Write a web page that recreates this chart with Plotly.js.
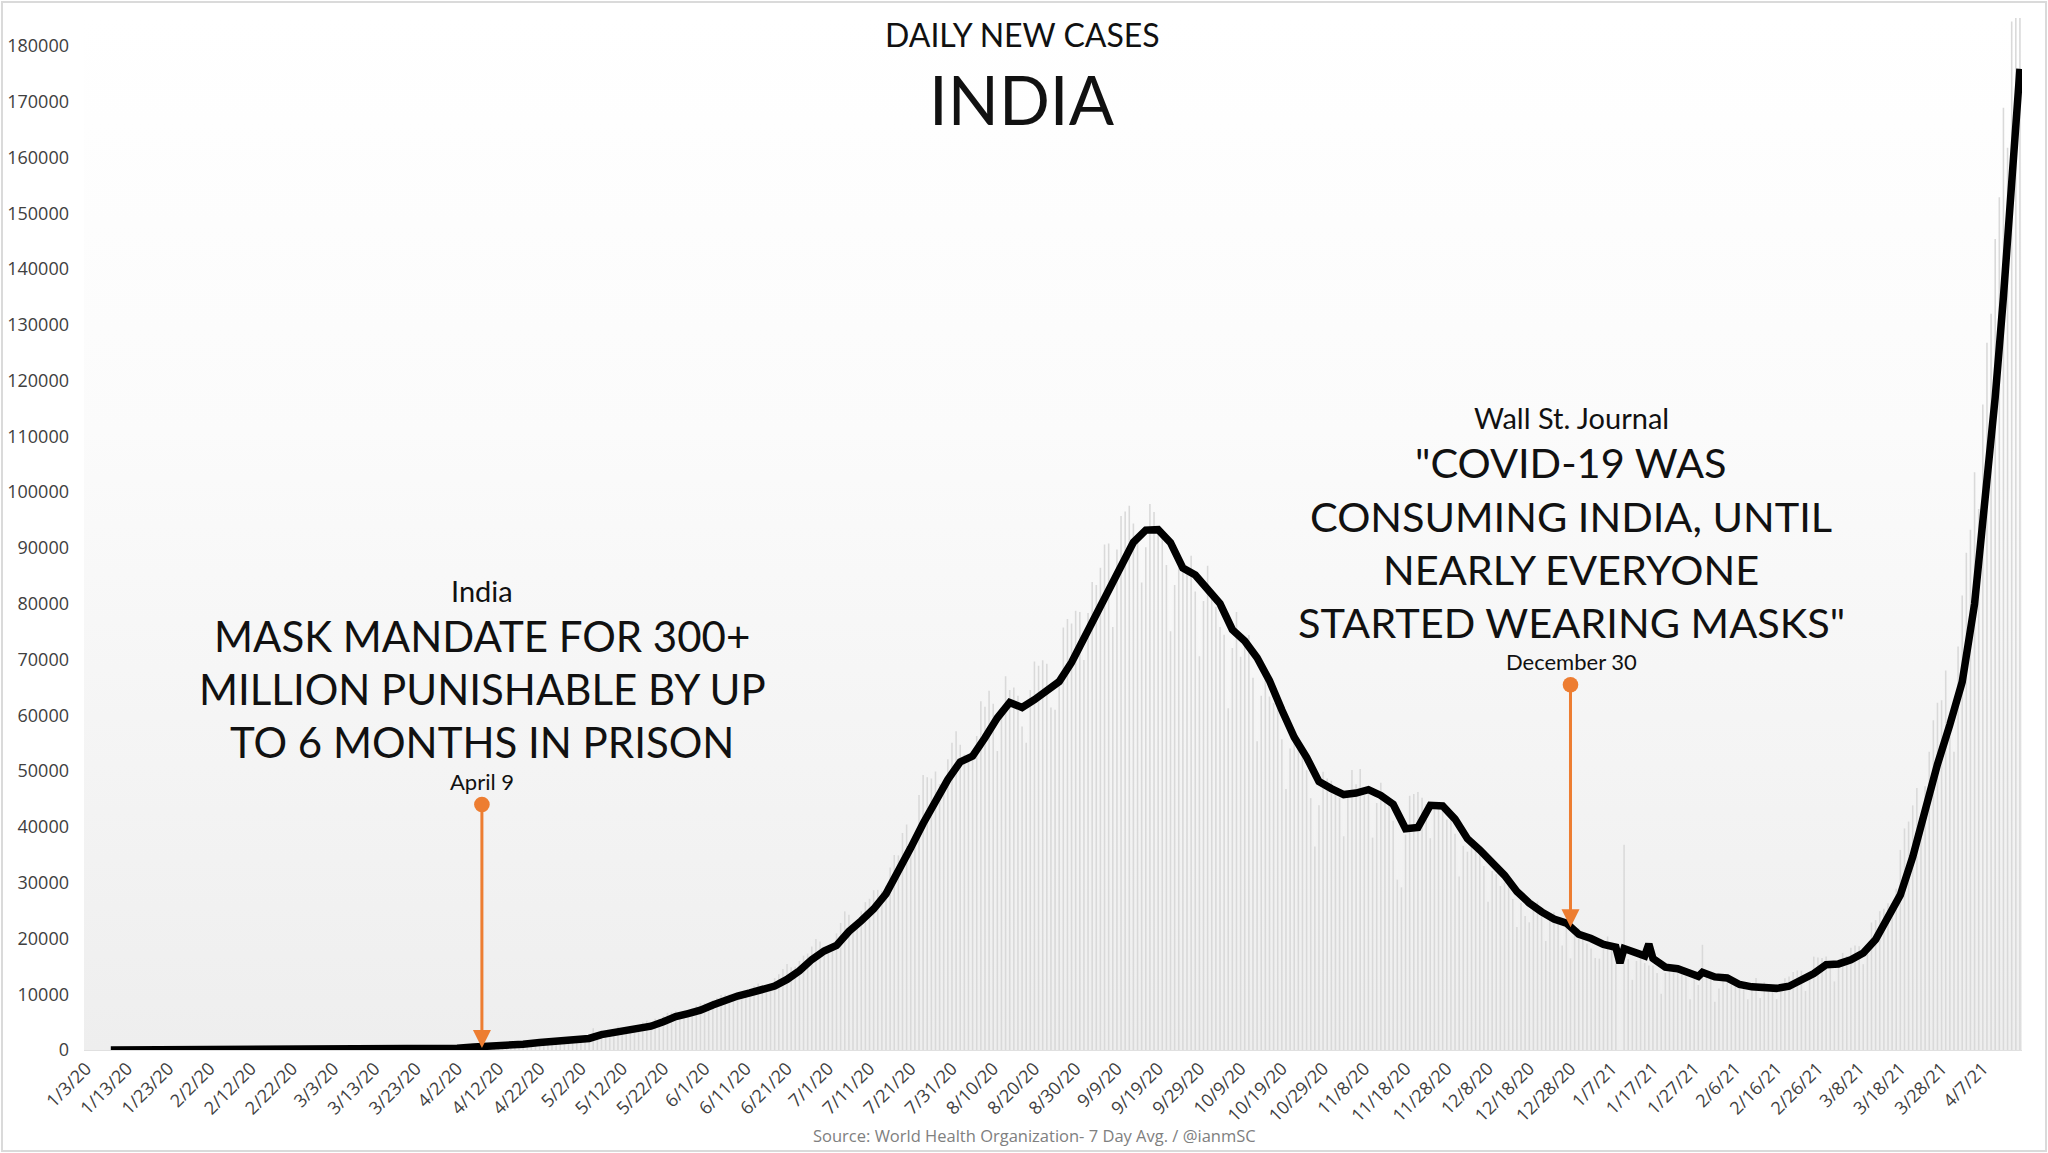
<!DOCTYPE html>
<html>
<head>
<meta charset="utf-8">
<script src="https://cdn.plot.ly/plotly-3.0.1.min.js"></script>
<style>
html,body{margin:0;padding:0;background:#ffffff;}
#chart{width:2048px;height:1153px;outline:2px solid #dadada;outline-offset:-3px;}
</style>
</head>
<body>
<div id="chart"></div>
<script>
// ---------- DATA ----------
// Daily new cases (gray bars), starting 2020-01-03, one value per day
const jan20 = [0,0,0,0,0,0,0,0,0,0,0,0,0,0,0,0,0,0,0,0,0,0,0,0,0,0,0,1,0];
const feb20 = [0,1,1,0,0,0,0,0,0,0,0,0,0,0,0,0,0,0,0,0,0,0,0,0,0,0,0,0,0];
const mar20 = [0,2,1,22,1,2,3,5,4,12, 6,11,9,11,20,4,23,14,27,60, 80,64,84,87,88,75,147,160,106,227, 146];
const apr20 = [601,545,478,601,472,693,354,773,540,896, 796,909,796,1211,1076,826,1007,1334,1553,1336, 1383,1409,1684,1429,1990,1396,1543,1594,1813,1718];
const may20 = [1993,2293,2644,2553,3900,2958,3561,3390,3320,3277, 4213,3604,3525,3722,3967,3970,4987,5242,4970,5611, 5609,6088,6654,6767,6977,6535,6387,6566,7466,7964, 8380];
const jun20 = [8392,8171,8909,9304,9851,9887,9971,9983,9987,9985, 9996,10956,11458,11929,11502,10667,10974,12881,13586,14516, 15413,14821,14933,15968,16922,17296,18552,19906,19459,18522];
const jul20 = [18653,19148,20903,22771,24850,24248,22252,22752,24879,26506, 27114,28637,28701,28498,29429,32695,34956,34884,38902,40425, 37148,37724,45720,49310,48916,48661,49931,47703,48513,52123, 55079];
const aug20 = [57118,54735,52972,52050,52509,56282,62538,61537,64399,62064, 53601,60963,66999,64553,65002,63490,57981,55079,64531,69652, 68898,69878,69239,61408,60975,67151,75760,77266,76472,78761, 78512];
const sep20 = [69921,78357,83883,83341,86432,90632,90802,75809,89706,95735, 96551,97570,94372,92071,83809,90123,97894,96424,93337,92605, 86961,75083,83347,86508,86052,85362,88600,82170,70589,80472];
const oct20 = [86821,81484,79476,75829,74442,61267,72049,78524,70496,73272, 74383,66732,55342,63509,67708,63371,62212,61871,55722,46790, 54044,55839,54366,53370,50129,45149,36470,43893,49881,48648, 48268];
const nov20 = [46963,45231,38310,46253,50210,47638,50357,45674,45903,38073, 44281,47905,44878,44684,41100,30548,29164,38617,45576,45882, 46232,45209,44059,37975,44376,44489,43082,41322,41810,38772];
const dec20 = [31118,36604,35551,36595,36652,36011,32981,26567,32080,31522, 29398,30006,30254,27071,22065,26382,24010,22890,25153,26624, 24337,19556,23950,24712,23067,18732,22273,16432,20549,21822, 20035];
const jan21 = [19079,18177,16504,16375,18088,20346,18139,18222,0,36800, 16311,12584,15968,16946,15590,15158,15144,13788,10064,13823, 15223,14545,14256,14849,13203,9102,12689,11666,18855,13083, 13052];
const feb21 = [8635,11039,12899,12923,12408,11713,12059,11831,9110,11067, 12923,9309,12143,11427,11649,9121,11610,12881,13193,13993, 14264,14199,10584,13742,16738,16577,16488,16752];
const mar21 = [15510,12286,14989,17407,16838,18327,18711,18599,15388,17921, 22854,23285,24882,25320,26291,24492,28903,35871,39726,40953, 43846,46951,40715,47262,53476,59118,62258,62714,68020,56211, 53480];
const apr21 = [72330,81466,89129,93249,103558,96982,115736,126789,131968,145384, 152879,168912,161736,184372,200739,217353];
const firstDay = '2020-01-03';

// 7-day average (black line)
const avgDates = [
 '2020-01-09','2020-03-01','2020-03-15','2020-03-22','2020-03-29','2020-04-02',
 '2020-04-06','2020-04-10','2020-04-14','2020-04-18','2020-04-22','2020-04-26',
 '2020-04-30','2020-05-04','2020-05-07','2020-05-10','2020-05-13','2020-05-16',
 '2020-05-19','2020-05-22','2020-05-25','2020-05-28','2020-05-31','2020-06-03',
 '2020-06-06','2020-06-09','2020-06-12','2020-06-15','2020-06-18','2020-06-21',
 '2020-06-24','2020-06-27','2020-06-30','2020-07-03','2020-07-06','2020-07-09',
 '2020-07-12','2020-07-15','2020-07-18','2020-07-21','2020-07-24','2020-07-27',
 '2020-07-30','2020-08-02','2020-08-05','2020-08-08','2020-08-11','2020-08-14',
 '2020-08-17','2020-08-20','2020-08-23','2020-08-26','2020-08-29','2020-09-01',
 '2020-09-04','2020-09-07','2020-09-10','2020-09-13','2020-09-16','2020-09-19',
 '2020-09-22','2020-09-25','2020-09-28','2020-10-01','2020-10-04','2020-10-07',
 '2020-10-10','2020-10-13','2020-10-16','2020-10-19','2020-10-22','2020-10-25',
 '2020-10-28','2020-10-31','2020-11-03','2020-11-06','2020-11-09','2020-11-12',
 '2020-11-15','2020-11-18','2020-11-21','2020-11-24','2020-11-27','2020-11-30',
 '2020-12-03','2020-12-06','2020-12-09','2020-12-12','2020-12-15','2020-12-18',
 '2020-12-21','2020-12-24','2020-12-27','2020-12-30','2021-01-02','2021-01-05',
 '2021-01-08','2021-01-09','2021-01-10','2021-01-13','2021-01-15','2021-01-16',
 '2021-01-17','2021-01-20','2021-01-23','2021-01-26','2021-01-28','2021-01-29',
 '2021-02-01','2021-02-04','2021-02-07','2021-02-10','2021-02-13','2021-02-16',
 '2021-02-19','2021-02-22','2021-02-25','2021-02-28','2021-03-03','2021-03-06',
 '2021-03-09','2021-03-12','2021-03-15','2021-03-18','2021-03-21','2021-03-24',
 '2021-03-27','2021-03-30','2021-04-02','2021-04-05','2021-04-08','2021-04-10',
 '2021-04-12','2021-04-14','2021-04-16'
];
const avgValues = [
 0,0,10,35,100,300,
 530,620,860,1040,1330,1560,
 1640,2070,2770,3120,3450,3700,
 4270,5050,5980,6540,7130,8080,
 8950,9680,10230,10980,11470,12650,
 14200,16210,17750,18740,21240,23160,
 25270,27990,31850,36240,40600,44500,
 48480,51640,52700,55960,59540,62300,
 61400,62800,64380,66040,69470,73840,
 77880,82850,87170,91030,93200,93280,
 90960,86400,85140,82800,80010,75350,
 73310,70310,66220,60960,56060,52470,
 48110,46860,45790,46070,46660,45640,
 44040,39670,39880,43870,43740,41400,
 37880,35870,33670,31320,28410,26350,
 24760,23480,22750,20750,19980,18930,
 18420,15610,18190,17240,16880,18990,
 16410,14850,14580,13770,13200,13940,
 13100,12900,11740,11320,11190,11050,
 11430,12480,13690,15290,15430,16170,
 17400,19800,23600,27800,34600,43000,
 51200,58300,66000,80000,101500,117000,
 135000,153500,175900
];

// Annotation texts / dates
const titleTop = 'DAILY NEW CASES';
const titleMain = 'INDIA';
const leftSource = 'India';
const leftLines = ['MASK MANDATE FOR 300+', 'MILLION PUNISHABLE BY UP', 'TO 6 MONTHS IN PRISON'];
const leftDateLabel = 'April 9';
const leftArrowDate = '2020-04-08';
const rightSource = 'Wall St. Journal';
const rightLines = ['"COVID-19 WAS', 'CONSUMING INDIA, UNTIL', 'NEARLY EVERYONE', 'STARTED WEARING MASKS"'];
const rightDateLabel = 'December 30';
const rightArrowDate = '2020-12-28';
const sourceNote = 'Source: World Health Organization- 7 Day Avg. / @ianmSC';

// ---------- BUILD ----------
const dailyCases = [].concat(jan20, feb20, mar20, apr20, may20, jun20, jul20, aug20, sep20, oct20, nov20, dec20, jan21, feb21, mar21, apr21);
const DAY = 86400000;
const t0 = Date.parse(firstDay + 'T00:00:00Z');
const barDates = dailyCases.map((_, i) => new Date(t0 + i * DAY).toISOString().slice(0, 10));

const FONT = 'Lato, "Open Sans", sans-serif';
const ORANGE = '#ED7D31';

const gradSvg = "<svg xmlns='http://www.w3.org/2000/svg' width='10' height='200' preserveAspectRatio='none'>" +
  "<defs><linearGradient id='g' x1='0' y1='0' x2='0' y2='1'>" +
  "<stop offset='0' stop-color='#ffffff'/><stop offset='0.4' stop-color='#fbfbfb'/><stop offset='1' stop-color='#eeeeee'/>" +
  "</linearGradient></defs><rect width='10' height='200' fill='url(#g)'/></svg>";
const gradUri = 'data:image/svg+xml;charset=utf-8,' + encodeURIComponent(gradSvg);

const traces = [
  {
    type: 'bar', x: barDates, y: dailyCases,
    width: 0.38 * DAY,
    marker: {color: '#d9d9d9', line: {width: 0}},
    hoverinfo: 'skip', showlegend: false
  },
  {
    type: 'scatter', mode: 'lines', x: avgDates, y: avgValues,
    line: {color: '#000000', width: 7.5},
    hoverinfo: 'skip', showlegend: false
  }
];

const L = 84, R = 26, T = 18, B = 103, W = 2048, H = 1153;
const pw = W - L - R, ph = H - T - B;
const px = xp => (xp - L) / pw;          // pixel -> paper x
const py = yp => (H - B - yp) / ph;      // pixel -> paper y

function txt(text, xPix, yPix, size, color, family) {
  return {
    text: text, xref: 'paper', yref: 'paper', x: px(xPix), y: py(yPix),
    xanchor: 'center', yanchor: 'middle', showarrow: false,
    font: {family: family || FONT, size: size, color: color || '#111111'}
  };
}

const annotations = [
  txt(titleTop, 1022, 34, 32),
  txt(titleMain, 1022, 99, 67),
  txt(leftSource, 482, 590, 29),
  txt(leftLines[0], 482, 636, 42),
  txt(leftLines[1], 482, 689, 42),
  txt(leftLines[2], 482, 742, 42),
  txt(leftDateLabel, 482, 781, 22),
  txt(rightSource, 1571, 417, 29),
  txt(rightLines[0], 1571, 462, 41.5),
  txt(rightLines[1], 1571, 516, 41.5),
  txt(rightLines[2], 1571, 569, 41.5),
  txt(rightLines[3], 1571, 622, 41.5),
  txt(rightDateLabel, 1571, 661, 22),
  txt(sourceNote, 1034, 1135, 16.5, '#808080', '"Open Sans", sans-serif'),
  {
    x: leftArrowDate, y: 360, xref: 'x', yref: 'y', ax: 0, ay: -245,
    text: '', showarrow: true, arrowcolor: ORANGE, arrowwidth: 3,
    arrowhead: 2, arrowsize: 1.2, arrowside: 'end+start', startarrowhead: 6, startarrowsize: 1.3,
    standoff: 0, startstandoff: 0
  },
  {
    x: rightArrowDate, y: 22000, xref: 'x', yref: 'y', ax: 0, ay: -244,
    text: '', showarrow: true, arrowcolor: ORANGE, arrowwidth: 3,
    arrowhead: 2, arrowsize: 1.2, arrowside: 'end+start', startarrowhead: 6, startarrowsize: 1.3,
    standoff: 0, startstandoff: 0
  }
];

const layout = {
  width: W, height: H,
  margin: {l: L, r: R, t: T, b: B, pad: 0},
  paper_bgcolor: 'rgba(0,0,0,0)', plot_bgcolor: '#ffffff',
  showlegend: false,
  xaxis: {
    type: 'date',
    range: ['2020-01-02 12:00', '2021-04-16 12:00'],
    tick0: firstDay, dtick: 10 * DAY, tickformat: '%-m/%-d/%y',
    tickangle: -45, ticks: '', showgrid: false, zeroline: false,
    showline: true, linecolor: '#e0e0e0', linewidth: 1,
    tickfont: {family: '"Open Sans", sans-serif', size: 18, color: '#404040'},
    fixedrange: true
  },
  yaxis: {
    range: [0, 185000], tick0: 0, dtick: 10000, tickformat: 'd',
    ticks: '', showgrid: false, zeroline: false, showline: false,
    ticklabelstandoff: 14,
    tickfont: {family: '"Open Sans", sans-serif', size: 18, color: '#404040'},
    fixedrange: true
  },
  images: [{
    source: gradUri, xref: 'paper', yref: 'paper', x: 0, y: 1, sizex: 1, sizey: 1,
    xanchor: 'left', yanchor: 'top', sizing: 'stretch', layer: 'below'
  }],
  annotations: annotations
};

Plotly.newPlot('chart', traces, layout, {staticPlot: true, displayModeBar: false});
</script>
</body>
</html>
